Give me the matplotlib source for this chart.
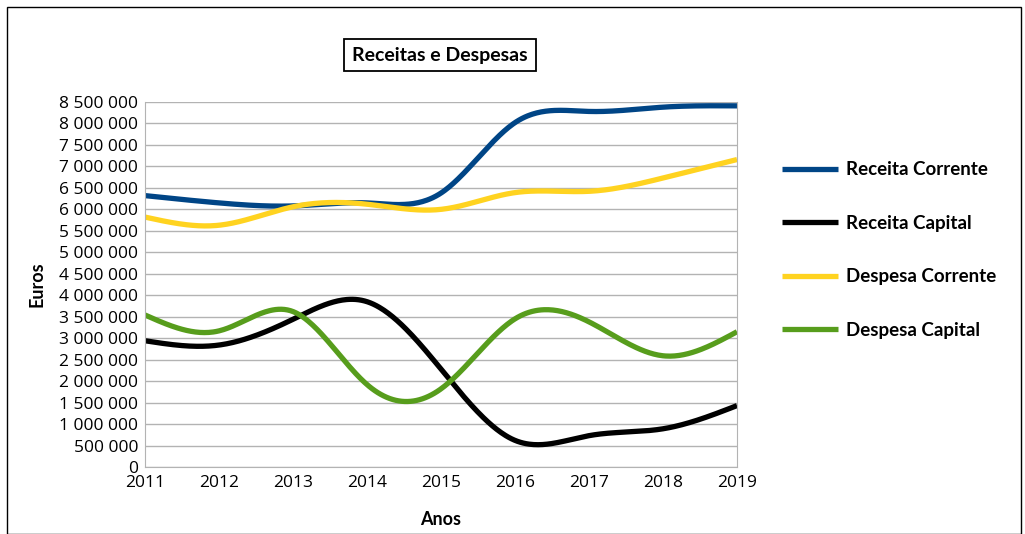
import numpy as np
import matplotlib
matplotlib.use("Agg")
import matplotlib.pyplot as plt
from matplotlib.patches import Rectangle
from matplotlib.ticker import FuncFormatter

years = [2011, 2012, 2013, 2014, 2015, 2016, 2017, 2018, 2019]
receita_corrente = [6320000, 6150000, 6080000, 6150000, 6380000, 8020000, 8280000, 8380000, 8410000]
receita_capital = [2940000, 2840000, 3440000, 3850000, 2280000, 620000, 730000, 890000, 1430000]
despesa_corrente = [5820000, 5630000, 6060000, 6120000, 6000000, 6390000, 6420000, 6730000, 7160000]
despesa_capital = [3540000, 3170000, 3620000, 1920000, 1820000, 3450000, 3380000, 2590000, 3150000]

series = [("Receita Corrente", receita_corrente, "#004586"),
          ("Receita Capital", receita_capital, "#000000"),
          ("Despesa Corrente", despesa_corrente, "#ffd320"),
          ("Despesa Capital", despesa_capital, "#579d1c")]


def spline(x, y, n=400):
    # natural cubic spline, like the smoothed lines of the office chart
    x = np.asarray(x, float)
    y = np.asarray(y, float)
    m = len(x)
    h = np.diff(x)
    A = np.zeros((m, m))
    b = np.zeros(m)
    A[0, 0] = A[-1, -1] = 1
    for i in range(1, m - 1):
        A[i, i - 1] = h[i - 1]
        A[i, i] = 2 * (h[i - 1] + h[i])
        A[i, i + 1] = h[i]
        b[i] = 6 * ((y[i + 1] - y[i]) / h[i] - (y[i] - y[i - 1]) / h[i - 1])
    M = np.linalg.solve(A, b)
    xs = np.linspace(x[0], x[-1], n)
    k = np.clip(np.searchsorted(x, xs) - 1, 0, m - 2)
    t = xs - x[k]
    hk = h[k]
    ys = (M[k] * (x[k + 1] - xs) ** 3 / (6 * hk) + M[k + 1] * t ** 3 / (6 * hk)
          + (y[k] / hk - M[k] * hk / 6) * (x[k + 1] - xs)
          + (y[k + 1] / hk - M[k + 1] * hk / 6) * t)
    return xs, ys


fig = plt.figure(figsize=(10.25, 5.34), dpi=100)
fig.patches.append(Rectangle((7 / 1025, 0), 1014 / 1025, 527 / 534, transform=fig.transFigure,
                             fill=False, edgecolor="black", linewidth=1.0))
ax = fig.add_axes([145 / 1025, 1 - 467 / 534, 592 / 1025, 365 / 534])

for name, vals, col in series:
    xs, ys = spline(years, vals)
    ax.plot(xs, ys, color=col, linewidth=3.8, label=name, solid_capstyle="butt")

ax.set_xlim(2011, 2019)
ax.set_ylim(0, 8500000)
ax.set_xticks(years)
ax.set_yticks(np.arange(0, 8500001, 500000))
ax.yaxis.set_major_formatter(FuncFormatter(lambda v, p: "{:,.0f}".format(v).replace(",", " ")))
ax.grid(axis="y", color="#b3b3b3", linewidth=1.0)
ax.set_axisbelow(True)
ax.tick_params(length=0, labelsize=12.5)
ax.tick_params(axis="x", pad=6)
ax.tick_params(axis="y", pad=5)
for lab in ax.get_xticklabels() + ax.get_yticklabels():
    lab.set_family("Open Sans")
for s in ["left", "right", "bottom"]:
    ax.spines[s].set_color("#b3b3b3")
ax.spines["top"].set_visible(False)

ax.set_xlabel("Anos", fontsize=13, fontweight="bold", family="Lato", labelpad=14)
ax.set_ylabel("Euros", fontsize=13, fontweight="bold", family="Lato", labelpad=10)

fig.text(440 / 1025, 1 - 55 / 534, "Receitas e Despesas", ha="center", va="center",
         fontsize=14, fontweight="bold", family="Lato",
         bbox=dict(boxstyle="square,pad=0.4", facecolor="white", edgecolor="black", linewidth=1.3))

leg = ax.legend(loc="center left", bbox_to_anchor=(765 / 1025, 1 - 250 / 534), bbox_transform=fig.transFigure,
                frameon=False, handlelength=3.0, handletextpad=0.4, labelspacing=1.95,
                prop={"family": "Lato", "weight": "bold", "size": 13.5})

fig.savefig("out.png", dpi=100)
